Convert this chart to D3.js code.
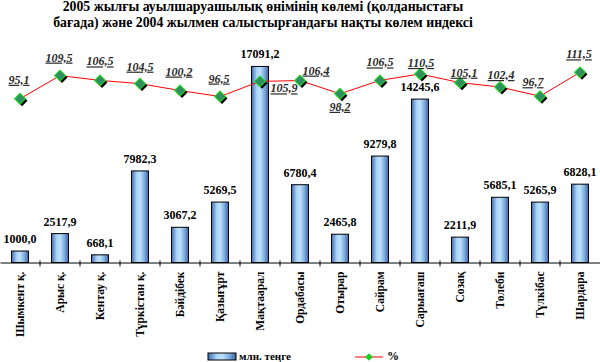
<!DOCTYPE html>
<html>
<head>
<meta charset="utf-8">
<script src="https://cdn.jsdelivr.net/npm/d3@7"></script>
<style>
  html, body { margin: 0; padding: 0; background: #fff; }
  svg { display: block; }
  text { font-family: "Liberation Serif", "Times New Roman", serif; }
</style>
</head>
<body>
<svg id="chart" width="600" height="362"></svg>
<script>
// ---- data ----
const titleLines = [
  "2005 жылғы ауылшаруашылық өнімінің көлемі (қолданыстағы",
  "бағада) және 2004 жылмен салыстырғандағы нақты көлем индексі"
];
const categories = ["Шымкент қ.", "Арыс қ.", "Кентау қ.", "Түркістан қ.", "Бәйдібек",
  "Қазығұрт", "Мақтаарал", "Ордабасы", "Отырар", "Сайрам", "Сарыағаш", "Созақ",
  "Төлеби", "Түлкібас", "Шардара"];
const volume = [1000.0, 2517.9, 668.1, 7982.3, 3067.2, 5269.5, 17091.2, 6780.4,
  2465.8, 9279.8, 14245.6, 2211.9, 5685.1, 5265.9, 6828.1];
const indexPct = [95.1, 109.5, 106.5, 104.5, 100.2, 96.5, 105.9, 106.4, 98.2,
  106.5, 110.5, 105.1, 102.4, 96.7, 111.5];
const legendNames = ["млн. теңге", "%"];

// label placement tweaks (dx, dy of label centre relative to marker)
const pctLabelShift = [[-1,-19],[-1,-18],[0,-19],[0,-17],[-1,-19],[-1,-18],[24,7],[16,-10],
  [0,13],[0,-18],[1,-11],[4,-10],[1,-12],[-7,-14],[-1,-18]];

const fmt = v => v.toFixed(1).replace(".", ",");

const svg = d3.select("#chart");
const W = 600, base = 262.5;

const defs = svg.append("defs");
const g1 = defs.append("linearGradient").attr("id", "barGrad")
  .attr("x1", "0%").attr("x2", "100%").attr("y1", "0%").attr("y2", "0%");
[["0%", "#3d6cae"], ["30%", "#a9d2f6"], ["50%", "#bfe0fb"], ["75%", "#7fb0e2"], ["100%", "#3b64a2"]]
  .forEach(([o, c]) => g1.append("stop").attr("offset", o).attr("stop-color", c));

// title
svg.append("g").selectAll("text").data(titleLines).join("text")
  .attr("x", 263).attr("y", (d, i) => 10.5 + i * 16.5)
  .attr("text-anchor", "middle")
  .attr("font-size", 13.8).attr("font-weight", "bold")
  .text(d => d);

// scales
const x = d3.scaleBand().domain(categories).range([0, W])
  .paddingInner(0.575).paddingOuter(0.2875);
const y = d3.scaleLinear().domain([0, 18000]).range([base, base - 206.5]);
const yP = d3.scaleLinear().domain([90, 115]).range([107, 66.7]);
const cx = c => x(c) + x.bandwidth() / 2;

// bars
svg.append("g").selectAll("rect").data(volume).join("rect")
  .attr("x", (d, i) => x(categories[i]))
  .attr("y", d => y(d))
  .attr("width", x.bandwidth())
  .attr("height", d => base - y(d))
  .attr("fill", "url(#barGrad)")
  .attr("stroke", "#000").attr("stroke-width", 1);

// bar labels
svg.append("g").selectAll("text").data(volume).join("text")
  .attr("x", (d, i) => cx(categories[i]))
  .attr("y", d => y(d) - 8)
  .attr("text-anchor", "middle")
  .attr("font-size", 12).attr("font-weight", "bold")
  .text(d => fmt(d));

// axis
const axis = svg.append("g").attr("transform", `translate(0,${base})`)
  .call(d3.axisBottom(x).tickSize(0).tickSizeOuter(0));
axis.select(".domain").attr("stroke", "#000");
axis.selectAll(".tick text")
  .attr("transform", "rotate(-90)")
  .attr("x", -9).attr("y", 0).attr("dy", "0.35em")
  .attr("text-anchor", "end")
  .attr("font-family", "Liberation Serif, serif")
  .attr("font-size", 11.5).attr("font-weight", "bold").attr("fill", "#000");
// category separators
svg.append("g").selectAll("line").data(categories.slice(1)).join("line")
  .attr("x1", c => cx(c) - x.step() / 2).attr("x2", c => cx(c) - x.step() / 2)
  .attr("y1", base - 2).attr("y2", base + 4)
  .attr("stroke", "#000");

// line series
const lineGen = d3.line().x((d, i) => cx(categories[i])).y(d => yP(d));
svg.append("path").datum(indexPct)
  .attr("d", lineGen).attr("fill", "none")
  .attr("stroke", "#ff0000").attr("stroke-width", 1);

const sq = d3.symbol(d3.symbolSquare, 60)();
const mk = svg.append("g").selectAll("g").data(indexPct).join("g")
  .attr("transform", (d, i) => `translate(${cx(categories[i])},${yP(d)})`);
mk.append("path").attr("d", sq).attr("transform", "translate(2,2) rotate(45)").attr("fill", "#000");
mk.append("path").attr("d", sq).attr("transform", "rotate(45)")
  .attr("fill", "#2f8f60").attr("stroke", "#22dd22").attr("stroke-width", 1);

svg.append("g").selectAll("text").data(indexPct).join("text")
  .attr("x", (d, i) => cx(categories[i]) + pctLabelShift[i][0])
  .attr("y", (d, i) => yP(d) + pctLabelShift[i][1] + 4)
  .attr("text-anchor", "middle")
  .attr("font-size", 12).attr("font-weight", "bold").attr("font-style", "italic")
  .attr("fill", "#2a2a2a")
  .style("text-decoration", "underline")
  .text(d => fmt(d));

// legend
const lg = svg.append("g");
lg.append("rect").attr("x", 208).attr("y", 353).attr("width", 28).attr("height", 7)
  .attr("fill", "url(#barGrad)").attr("stroke", "#000");
lg.append("text").attr("x", 239).attr("y", 360)
  .attr("font-size", 11).attr("font-weight", "bold").text(legendNames[0]);
lg.append("line").attr("x1", 355).attr("x2", 383).attr("y1", 357).attr("y2", 357)
  .attr("stroke", "#ff0000");
lg.append("path").attr("d", d3.symbol(d3.symbolSquare, 30)())
  .attr("transform", "translate(369,357) rotate(45)").attr("fill", "#22cc22");
lg.append("text").attr("x", 387).attr("y", 359.5)
  .attr("font-size", 12).attr("font-weight", "bold").text(legendNames[1]);
</script>
</body>
</html>
